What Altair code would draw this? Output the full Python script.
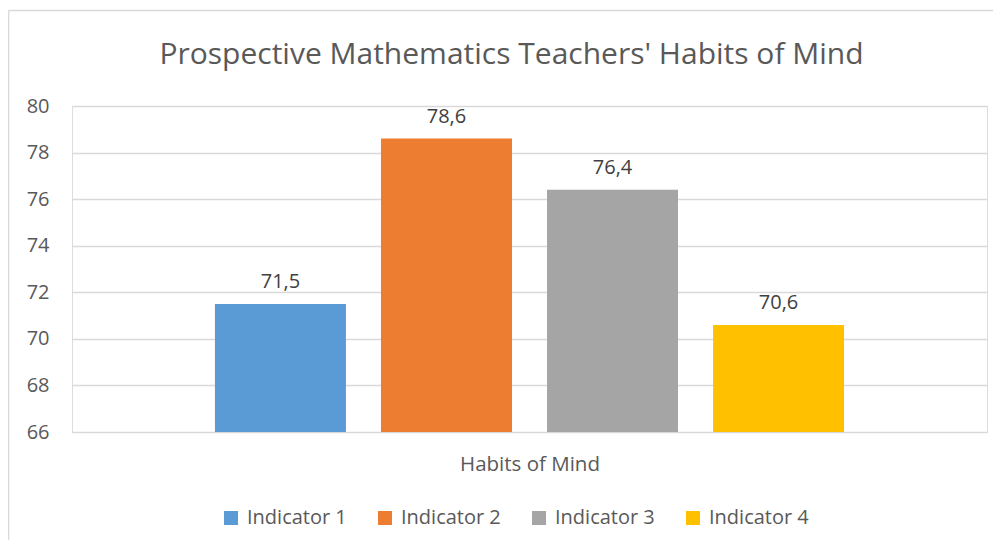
import altair as alt
import pandas as pd

indicators = ["Indicator 1", "Indicator 2", "Indicator 3", "Indicator 4"]
values = [71.5, 78.6, 76.4, 70.6]
colors = ["#5B9BD5", "#ED7D31", "#A5A5A5", "#FFC000"]
y_ticks = [66, 68, 70, 72, 74, 76, 78, 80]
category = "Habits of Mind"
title = "Prospective Mathematics Teachers' Habits of Mind"

FONT = "Open Sans"
TXT = "#595959"
GRID = "#D9D9D9"

df = pd.DataFrame({"indicator": indicators, "value": values})

x_enc = alt.X(
    "indicator:N",
    sort=indicators,
    scale=alt.Scale(paddingInner=0.211, paddingOuter=0.861),
    axis=alt.Axis(labels=False, ticks=False, domain=False, grid=False,
                  title=category, titleFont=FONT, titleFontSize=20.5,
                  titleFontWeight="normal", titleColor=TXT, titlePadding=22),
)
y_scale = alt.Scale(domain=[66, 80], nice=False, zero=False)

base = alt.Chart(df)

bars = base.mark_bar().encode(
    x=x_enc,
    y=alt.Y("value:Q", scale=y_scale,
            axis=alt.Axis(values=y_ticks, title=None, domain=False, ticks=False,
                          grid=True, gridColor=GRID, gridWidth=1.5,
                          labelFont=FONT, labelFontSize=20, labelColor=TXT,
                          labelPadding=23)),
    y2=alt.datum(66),
    color=alt.Color("indicator:N", sort=indicators,
                    scale=alt.Scale(domain=indicators, range=colors),
                    legend=alt.Legend(title=None, orient="none", direction="horizontal",
                                      legendX=149, legendY=402, padding=0,
                                      symbolType="square", symbolSize=196,
                                      symbolStrokeWidth=0, labelFont=FONT,
                                      labelFontSize=20, labelColor=TXT,
                                      labelOffset=6, columnPadding=28)),
)

labels = base.transform_calculate(
    label="replace(format(datum.value, '.1f'), '.', ',')"
).mark_text(font=FONT, fontSize=20, color="#404040", baseline="alphabetic", dy=-16).encode(
    x=alt.X("indicator:N", sort=indicators),
    y=alt.Y("value:Q", scale=y_scale),
    text="label:N",
)

frame_df = pd.DataFrame({"k": [0]})
top_border = alt.Chart(frame_df).mark_rule(color=GRID, strokeWidth=1.5).encode(
    x=alt.value(-63.5), x2=alt.value(960), y=alt.value(-95.5))
left_border = alt.Chart(frame_df).mark_rule(color=GRID, strokeWidth=1.5).encode(
    x=alt.value(-63.5), y=alt.value(-95.5), y2=alt.value(480))

title_df = pd.DataFrame({"t": [title]})
title_mark = alt.Chart(title_df).mark_text(
    font=FONT, fontSize=30, color=TXT, baseline="alphabetic", align="center"
).encode(x=alt.value(439.5), y=alt.value(-42), text="t:N")

chart = alt.layer(bars, labels, top_border, left_border, title_mark).properties(
    width=915, height=326,
    autosize=alt.AutoSizeParams(type="none"),
    padding={"left": 64, "top": 98, "right": 6, "bottom": 108},
).configure_view(stroke=None).configure(background="white")

chart.save("out.html", embed_options={"renderer": "svg", "actions": False})
